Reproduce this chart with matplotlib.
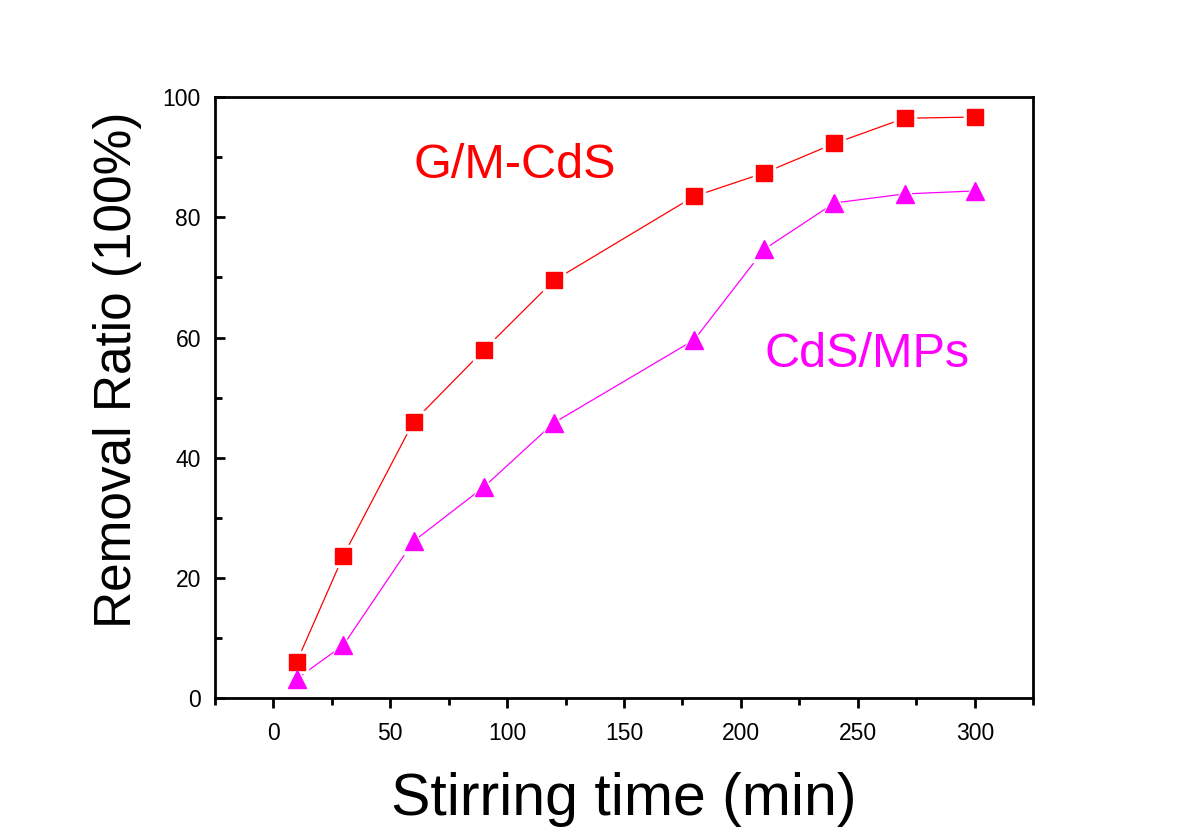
import matplotlib.pyplot as plt
import numpy as np
from matplotlib.ticker import MultipleLocator

plt.rcParams['font.family'] = ['Liberation Sans', 'DejaVu Sans']

time_min = [10, 30, 60, 90, 120, 180, 210, 240, 270, 300]
gm_cds = [6.0, 23.7, 46.0, 57.9, 69.5, 83.5, 87.4, 92.3, 96.5, 96.7]
cds_mps = [3.2, 8.8, 26.1, 35.1, 45.8, 59.6, 74.7, 82.4, 83.9, 84.4]

fig = plt.figure(figsize=(12, 8.38), dpi=100)
ax = fig.add_axes([0.179, 0.167, 0.682, 0.717])

# thin line, white halo behind markers gives the small gap
for y, col, mk, ms in [(gm_cds, '#ff0000', 's', 11), (cds_mps, '#ff00ff', '^', 13)]:
    ax.plot(time_min, y, color=col, lw=0.9, zorder=2)
    ax.plot(time_min, y, ls='none', marker=mk, ms=ms + 5, color='white', zorder=3)
    ax.plot(time_min, y, ls='none', marker=mk, ms=ms, color=col, zorder=4)

ax.set_xlim(-25, 325)
ax.set_ylim(0, 100)
ax.xaxis.set_major_locator(MultipleLocator(50))
ax.xaxis.set_minor_locator(MultipleLocator(25))
ax.yaxis.set_major_locator(MultipleLocator(20))
ax.yaxis.set_minor_locator(MultipleLocator(10))
ax.tick_params(axis='x', which='major', direction='out', length=7, width=2, labelsize=16.5, pad=10)
ax.tick_params(axis='x', which='minor', direction='out', length=5, width=2)
ax.tick_params(axis='y', which='major', direction='in', length=7, width=2, labelsize=16.5, pad=10)
ax.tick_params(axis='y', which='minor', direction='in', length=5, width=2)
for s in ax.spines.values():
    s.set_linewidth(2)

ax.set_xlabel('Stirring time (min)', fontsize=42.5, labelpad=20)
ax.set_ylabel('Removal Ratio (100%)', fontsize=37)
ax.yaxis.set_label_coords(-0.089, 0.546)

ax.text(60, 88.7, 'G/M-CdS', color='#ff0000', fontsize=35, va='center')
ax.text(210, 57.1, 'CdS/MPs', color='#ff00ff', fontsize=35, va='center')

fig.savefig('out.png', dpi=100)
